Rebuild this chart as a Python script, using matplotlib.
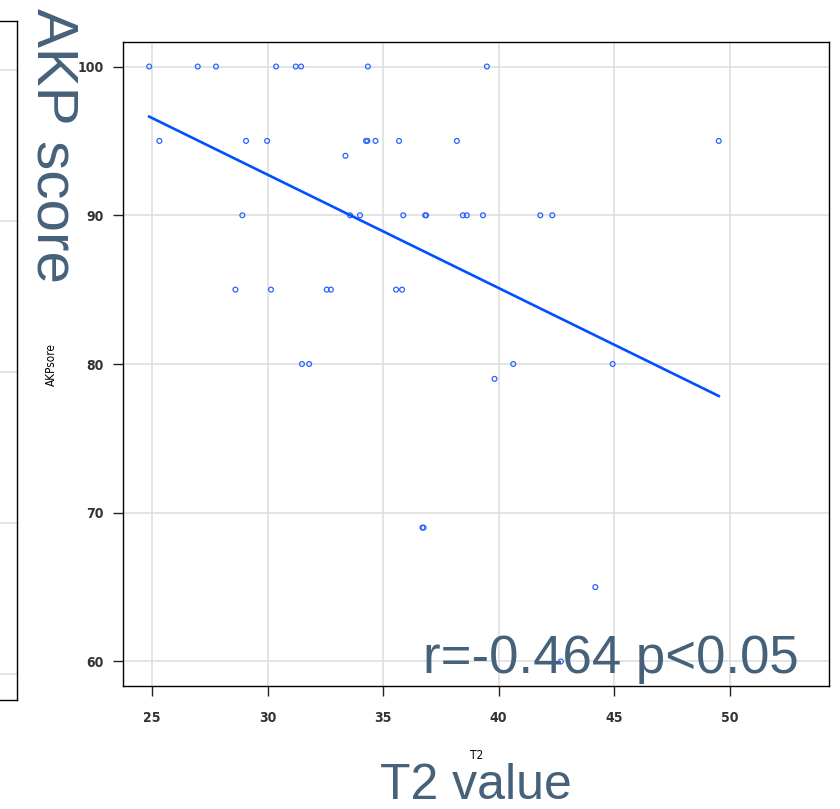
import numpy as np
import matplotlib.pyplot as plt

# T2 value (x) and AKP score (y)
t2 = [24.88, 26.98, 27.77, 30.37, 31.22, 31.45, 34.34, 39.49,
      25.32, 29.07, 29.98, 34.26, 34.32, 34.67, 35.69, 38.19, 49.52,
      33.37,
      28.91, 33.57, 34.0, 35.87, 36.82, 36.86, 38.45, 38.62, 39.32, 41.8, 42.32,
      28.61, 30.15, 32.56, 32.74, 35.56, 35.82,
      31.49, 31.8, 40.63, 44.93,
      39.82,
      36.7, 36.75,
      44.18,
      42.69]
akp = [100, 100, 100, 100, 100, 100, 100, 100,
       95, 95, 95, 95, 95, 95, 95, 95, 95,
       94,
       90, 90, 90, 90, 90, 90, 90, 90, 90, 90, 90,
       85, 85, 85, 85, 85, 85,
       80, 80, 80, 80,
       79,
       69, 69,
       65,
       60]

x_ticks = [25, 30, 35, 40, 45, 50]
y_ticks = [60, 70, 80, 90, 100]

big = ['Liberation Sans', 'DejaVu Sans']
slate = '#46617a'


def narrow_text(t, size):
    t.set_family('DejaVu Sans')
    t.set_stretch('condensed')
    t.set_fontsize(size)


def main():
    fig = plt.figure(figsize=(8.4, 8.09), dpi=100)

    # edge of the neighbouring panel on the left
    ax0 = fig.add_axes([-0.2, 1 - 700 / 809, 0.2 + 17 / 840, (700 - 20.7) / 809])
    ax0.set_ylim(58.28, 103.26)
    ax0.set_yticks(y_ticks)
    ax0.tick_params(left=False, labelleft=False, bottom=False, labelbottom=False)
    ax0.grid(axis='y', color='#dcdcdc', lw=1.1)
    for s in ax0.spines.values():
        s.set_linewidth(1.0)

    ax = fig.add_axes([123.3 / 840, 1 - 686 / 809, (829 - 123.3) / 840, (686 - 42) / 809])
    ax.set_axisbelow(True)
    ax.grid(color='#dcdcdc', lw=1.1)

    x = np.array(t2)
    y = np.array(akp)
    ax.scatter(x, y, s=12, facecolors='none', edgecolors='#2a64ff', linewidths=0.9, zorder=3)

    k, b = np.polyfit(x, y, 1)
    xs = np.array([x.min(), x.max()])
    ax.plot(xs, k * xs + b, color='#0050ff', lw=1.9, zorder=4)

    ax.set_xlim(23.76, 54.29)
    ax.set_ylim(58.35, 101.65)
    ax.set_xticks(x_ticks)
    ax.set_yticks(y_ticks)
    ax.tick_params(length=7, width=1.0, color='#222222', labelcolor='#333333', pad=7)
    ax.tick_params(axis='x', pad=11)
    for lab in ax.get_xticklabels() + ax.get_yticklabels():
        narrow_text(lab, 10)
        lab.set_fontweight('bold')
    for s in ax.spines.values():
        s.set_linewidth(1.0)

    narrow_text(ax.set_xlabel('T2', labelpad=17), 8.5)
    narrow_text(ax.set_ylabel('AKPsore', labelpad=14), 8.5)

    fig.text(52 / 840, 1 - 8 / 809, 'AKP score', rotation=-90, ha='center', va='top',
             family=big, fontsize=42, color=slate)
    fig.text(476 / 840, 1 - 799 / 809, 'T2 value', ha='center', va='baseline',
             family=big, fontsize=36, color=slate)
    ax.text(422.7 / 840, 1 - 673 / 809, 'r=-0.464 p<0.05', transform=fig.transFigure,
            ha='left', va='baseline', family=big, fontsize=38, color=slate, zorder=5)

    fig.savefig('out.png', dpi=100)
    plt.close(fig)


if __name__ == '__main__':
    main()
